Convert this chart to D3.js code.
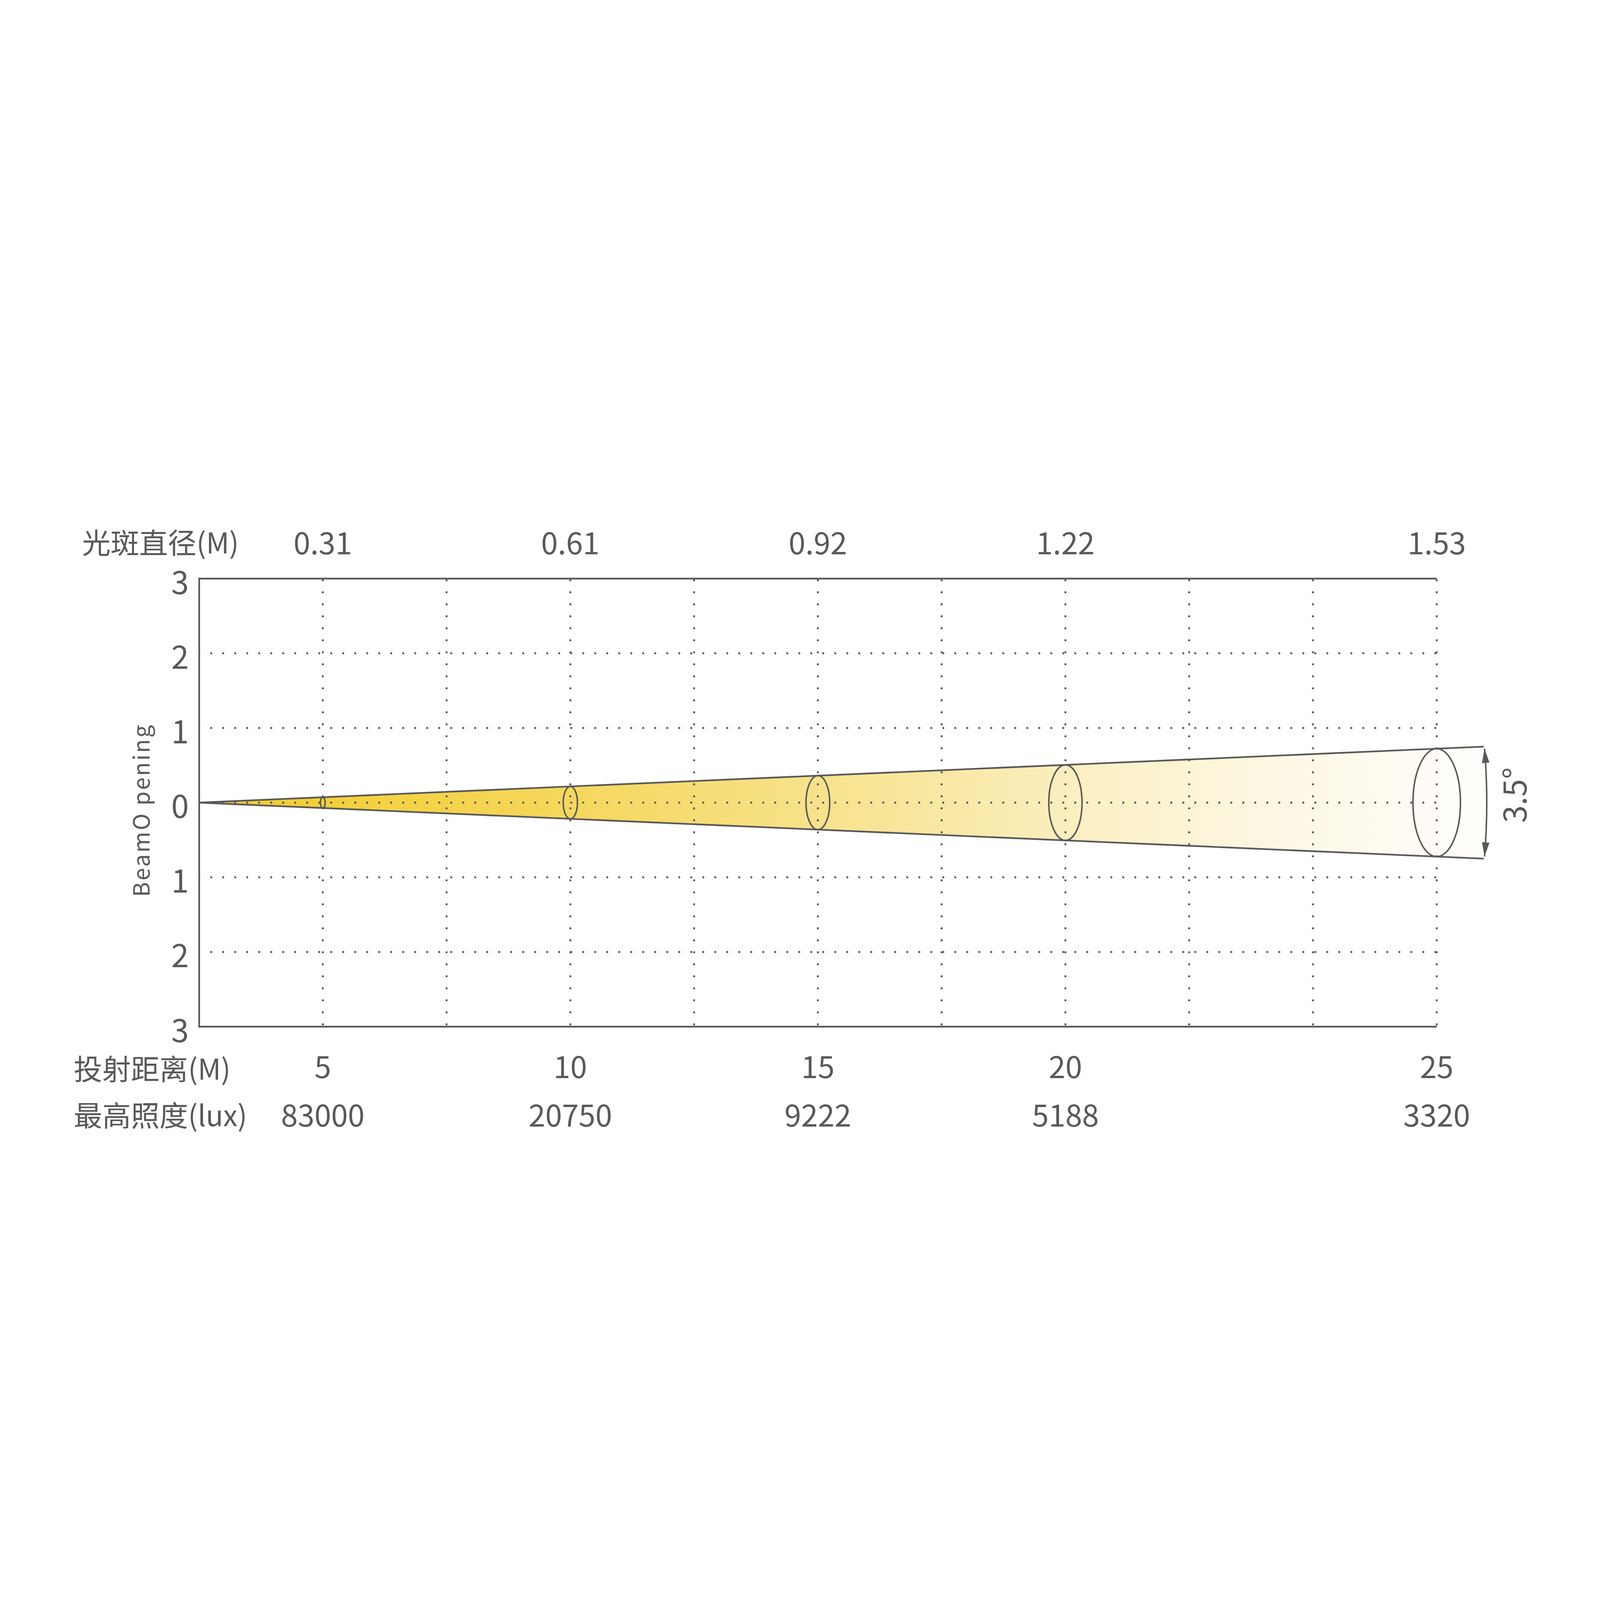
<!doctype html>
<html lang="zh">
<head>
  <meta charset="utf-8">
  <title>Beam chart</title>
  <script src="https://d3js.org/d3.v7.min.js"></script>
  <style>
  html, body { margin: 0; padding: 0; background: #fff; overflow: hidden; }
  text { font-family: "Noto Sans CJK SC", "Noto Sans", sans-serif; fill: #595959; }
  </style>
</head>
<body>
<div id="chart"></div>
<script>
// data
var distances = [5, 10, 15, 20, 25];            // 投射距离 (M)
var gridColumn = [1, 3, 5, 7, 10];              // grid column each distance sits on
var spotDiameter = ["0.31", "0.61", "0.92", "1.22", "1.53"];  // 光斑直径 (M)
var maxLux = [83000, 20750, 9222, 5188, 3320];  // 最高照度 (lux)
var yTicks = [3, 2, 1, 0, -1, -2, -3];
var beamEdge = [[0, 0], [10.38, 0.75]];         // upper edge of beam: [column, opening]
var beamAngle = "3.5°";

var W = 4253, H = 4253;
var plotLeft = 529, plotRight = 3819, plotTop = 1538, plotBottom = 2729;
var ink = "#595959";

// drawn on a 4253 grid, stretched to whatever the window is
var svg = d3.select("#chart").append("svg")
  .attr("width", window.innerWidth || W)
  .attr("height", window.innerHeight || H)
  .attr("viewBox", "0 0 " + W + " " + H)
  .attr("preserveAspectRatio", "xMidYMid meet")
  .style("display", "block");

svg.append("rect").attr("width", W).attr("height", H).attr("fill", "#fff");

// scales
var col = d3.scaleLinear().domain([0, 10]).range([plotLeft, plotRight]);
var x = d3.scaleLinear()
  .domain([0].concat(distances))
  .range([0].concat(gridColumn).map(col));
var y = d3.scaleLinear().domain([-3, 3]).range([plotBottom, plotTop]);

// opening of the beam at a given column
var opening = d3.scaleLinear()
  .domain([beamEdge[0][0], beamEdge[1][0]])
  .range([beamEdge[0][1], beamEdge[1][1]]);
var endCol = beamEdge[1][0];

// gradient for the beam
var defs = svg.append("defs");
var grad = defs.append("linearGradient")
  .attr("id", "beamFill")
  .attr("gradientUnits", "userSpaceOnUse")
  .attr("x1", col(0)).attr("x2", col(endCol))
  .attr("y1", 0).attr("y2", 0);
[[0, "#F2CC2A"], [0.28, "#F5D75A"], [0.55, "#F8E69C"], [0.7, "#FBF0C6"], [0.85, "#FDF8E6"], [1, "#FFFEFB"]]
  .forEach(function(s) {
    grad.append("stop").attr("offset", s[0]).attr("stop-color", s[1]);
  });

defs.append("marker")
  .attr("id", "head")
  .attr("markerUnits", "userSpaceOnUse")
  .attr("viewBox", "0 -12 40 24")
  .attr("refX", 38).attr("refY", 0)
  .attr("markerWidth", 40).attr("markerHeight", 24)
  .attr("orient", "auto-start-reverse")
  .append("path")
  .attr("d", "M0,-10L38,0L0,10Z")
  .attr("fill", ink);

// beam fill
var beamPts = [[col(0), y(0)], [col(endCol), y(opening(endCol))], [col(endCol), y(-opening(endCol))]];
svg.append("path")
  .attr("d", "M" + beamPts.join("L") + "Z")
  .attr("fill", "url(#beamFill)");

// dotted grid
var dots = "5 26.9";
svg.append("g").selectAll("line")
  .data(d3.range(1, 11))
  .enter().append("line")
  .attr("x1", function(d) { return col(d); })
  .attr("x2", function(d) { return col(d); })
  .attr("y1", y(3)).attr("y2", y(-3))
  .attr("stroke", ink)
  .attr("stroke-width", 5)
  .attr("stroke-dasharray", dots)
  .attr("stroke-dashoffset", -2);

svg.append("g").selectAll("line")
  .data([2, 1, 0, -1, -2])
  .enter().append("line")
  .attr("x1", col(0)).attr("x2", col(10))
  .attr("y1", function(d) { return y(d); })
  .attr("y2", function(d) { return y(d); })
  .attr("stroke", ink)
  .attr("stroke-width", 5)
  .attr("stroke-dasharray", dots)
  .attr("stroke-dashoffset", 2);

// frame: left axis plus top and bottom lines
var yAxis = d3.axisLeft(y)
  .tickValues(yTicks)
  .tickFormat(function(d) { return Math.abs(d); })
  .tickSize(0)
  .tickPadding(27);

var gy = svg.append("g")
  .attr("transform", "translate(" + plotLeft + ",0)")
  .call(yAxis);
gy.select(".domain").attr("stroke", ink).attr("stroke-width", 4.5);
gy.selectAll("text")
  .attr("font-size", 84)
  .attr("font-family", null)
  .attr("fill", ink)
  .attr("dy", "0.48em");

[3, -3].forEach(function(v) {
  svg.append("line")
    .attr("x1", col(0) - 2).attr("x2", col(10))
    .attr("y1", y(v)).attr("y2", y(v))
    .attr("stroke", ink)
    .attr("stroke-width", 4.5);
});

// beam edges
[1, -1].forEach(function(s) {
  svg.append("line")
    .attr("x1", col(0)).attr("y1", y(0))
    .attr("x2", col(endCol)).attr("y2", y(s * opening(endCol)))
    .attr("stroke", ink)
    .attr("stroke-width", 4.5);
});

// spot ellipses
svg.append("g").selectAll("ellipse")
  .data(gridColumn)
  .enter().append("ellipse")
  .attr("cx", function(d, i) { return x(distances[i]); })
  .attr("cy", y(0))
  .attr("ry", function(d) { return y(0) - y(opening(d)); })
  .attr("rx", function(d) { return 0.44 * (y(0) - y(opening(d))); })
  .attr("fill", "none")
  .attr("stroke", ink)
  .attr("stroke-width", 4);

// beam angle arrow
var ax = col(endCol) + 2;
var yT = y(opening(10)), yB = y(-opening(10));
svg.append("path")
  .attr("d", "M" + ax + "," + yT + "Q" + (ax + 12) + "," + y(0) + " " + ax + "," + yB)
  .attr("fill", "none")
  .attr("stroke", ink)
  .attr("stroke-width", 4)
  .attr("marker-start", "url(#head)")
  .attr("marker-end", "url(#head)");

svg.append("text")
  .attr("transform", "translate(" + (ax + 112) + "," + (y(0) - 20) + ") rotate(-90)")
  .attr("text-anchor", "middle")
  .attr("font-size", 84)
  .text(beamAngle);

// y axis title
svg.append("text")
  .attr("transform", "translate(398," + (y(0) + 20) + ") rotate(-90)")
  .attr("text-anchor", "middle")
  .attr("font-size", 60)
  .attr("letter-spacing", 4)
  .text("BeamO pening");

// top row: spot diameter
svg.append("text")
  .attr("x", 218).attr("y", 1471)
  .attr("font-size", 76)
  .text("光斑直径(M)");

svg.append("g").selectAll("text")
  .data(spotDiameter)
  .enter().append("text")
  .attr("x", function(d, i) { return x(distances[i]); })
  .attr("y", 1473)
  .attr("text-anchor", "middle")
  .attr("font-size", 80)
  .text(function(d) { return d; });

// bottom rows: distance and max illuminance
svg.append("text")
  .attr("x", 196).attr("y", 2870)
  .attr("font-size", 76)
  .text("投射距离(M)");

svg.append("g").selectAll("text")
  .data(distances)
  .enter().append("text")
  .attr("x", function(d) { return x(d); })
  .attr("y", 2866)
  .attr("text-anchor", "middle")
  .attr("font-size", 80)
  .text(function(d) { return d; });

svg.append("text")
  .attr("x", 196).attr("y", 2993)
  .attr("font-size", 76)
  .text("最高照度(lux)");

svg.append("g").selectAll("text")
  .data(maxLux)
  .enter().append("text")
  .attr("x", function(d, i) { return x(distances[i]); })
  .attr("y", 2995)
  .attr("text-anchor", "middle")
  .attr("font-size", 80)
  .text(function(d) { return d; });
</script>
</body>
</html>
